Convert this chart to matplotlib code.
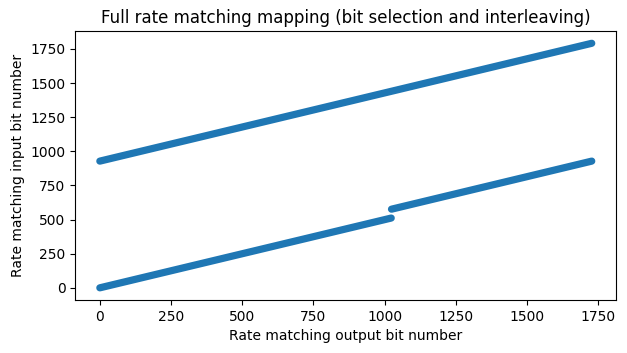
import matplotlib
matplotlib.use('Agg')
import matplotlib.pyplot as plt

# rate matching mapping, read off the picture as straight runs of bits
# (output bit number -> input bit number), one entry per run
run_out_start = [0, 0, 1024]
run_out_stop = [1727, 1023, 1727]
run_in_start = [928, 0, 576]
run_in_stop = [1791, 511, 928]

fig = plt.figure(figsize=(6.27, 3.53), dpi=100)
ax = fig.add_axes([0.120, 0.150, 0.863, 0.762])

for x0, x1, y0, y1 in zip(run_out_start, run_out_stop, run_in_start, run_in_stop):
    ax.plot([x0, x1], [y0, y1], color='#1f77b4', linewidth=5.2, solid_capstyle='round')

ax.set_xlabel('Rate matching output bit number')
ax.set_ylabel('Rate matching input bit number')
ax.set_title('Full rate matching mapping (bit selection and interleaving)')

fig.savefig('out.png', dpi=100)
